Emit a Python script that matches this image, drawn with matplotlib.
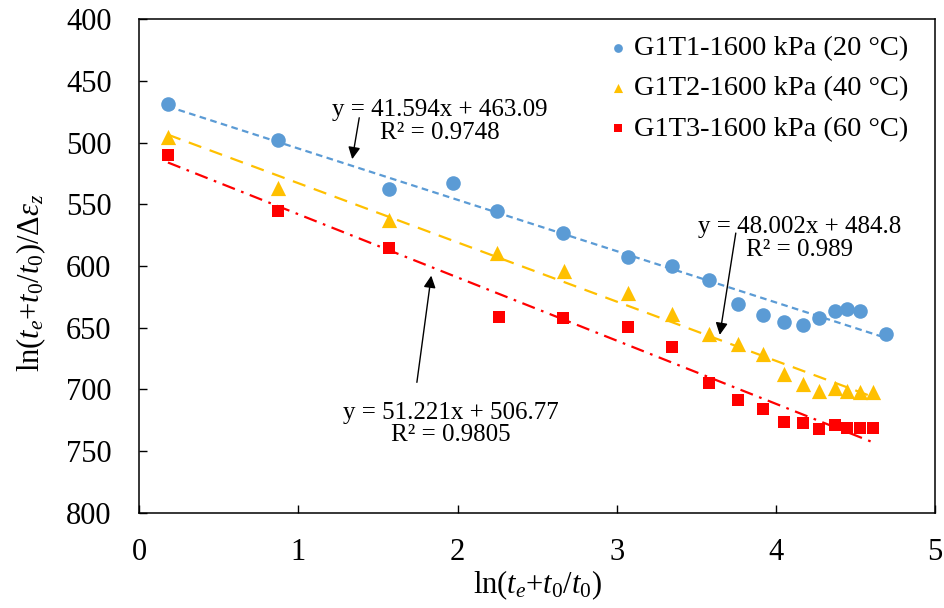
import numpy as np
import matplotlib
matplotlib.use("Agg")
import matplotlib.pyplot as plt

plt.rcParams['font.family'] = ['Liberation Serif', 'DejaVu Serif']
plt.rcParams['mathtext.fontset'] = 'custom'
plt.rcParams['mathtext.rm'] = 'Liberation Serif'
plt.rcParams['mathtext.it'] = 'Liberation Serif:italic'

# data
x_blue = [0.18, 0.87, 1.57, 1.97, 2.25, 2.66, 3.07, 3.35, 3.58, 3.76, 3.92,
          4.05, 4.17, 4.27, 4.37, 4.45, 4.53, 4.69]
y_blue = [468.5, 498, 537.5, 533, 555, 573, 593, 600, 611, 631, 640,
          645, 648, 642, 636.5, 635, 636.5, 655]

x_yel = [0.18, 0.87, 1.57, 2.25, 2.67, 3.07, 3.35, 3.58, 3.76, 3.92,
         4.05, 4.17, 4.27, 4.37, 4.45, 4.53, 4.61]
y_yel = [495, 537, 563, 589, 604, 622, 639, 655, 663.5, 671.5,
         687.5, 695.5, 701, 699, 701, 702, 702]

x_red = [0.18, 0.87, 1.57, 2.26, 2.66, 3.07, 3.35, 3.58, 3.76, 3.92,
         4.05, 4.17, 4.27, 4.37, 4.45, 4.53, 4.61]
y_red = [510, 555, 585, 641.5, 642, 649, 665.5, 695, 708.5, 716,
         726.5, 727.5, 732, 729, 731, 731.5, 731]

# trend line coefficients (slope, intercept)
fit_blue = (41.594, 463.09)
fit_yel = (48.002, 484.8)
fit_red = (51.221, 506.77)

labels = ['G1T1-1600 kPa (20 °C)', 'G1T2-1600 kPa (40 °C)', 'G1T3-1600 kPa (60 °C)']
c_blue, c_yel, c_red = '#5B9BD5', '#FFC000', '#FF0000'

fig = plt.figure(figsize=(9.45, 6.08), dpi=100)
ax = fig.add_axes([0.1474, 0.1567, 0.8420, 0.8113])

# trend lines
xb = np.array([x_blue[0], x_blue[-1]])
ax.plot(xb, fit_blue[0] * xb + fit_blue[1], color=c_blue, lw=1.6, dashes=(3, 2), zorder=2)
xy = np.array([x_yel[0], x_yel[-1]])
ax.plot(xy, fit_yel[0] * xy + fit_yel[1], color=c_yel, lw=1.6, dashes=(6, 4), zorder=2)
xr = np.array([x_red[0], x_red[-1]])
ax.plot(xr, fit_red[0] * xr + fit_red[1], color=c_red, lw=1.6, dashes=(6, 3, 1.2, 3), zorder=2)

# data points
ax.scatter(x_blue, y_blue, s=110, marker='o', color=c_blue, label=labels[0], zorder=3, linewidths=0)
ax.scatter(x_yel, y_yel, s=120, marker='^', color=c_yel, label=labels[1], zorder=3, linewidths=0)
ax.scatter(x_red, y_red, s=85, marker='s', color=c_red, label=labels[2], zorder=3, linewidths=0)

ax.set_xlim(0, 5)
ax.set_ylim(800, 400)
ax.set_xticks(range(0, 6))
ax.set_yticks(range(400, 801, 50))
ax.tick_params(direction='in', length=6, width=1, labelsize=22)
ax.tick_params(axis='x', pad=18)
ax.tick_params(axis='y', pad=20)
for s in ax.spines.values():
    s.set_linewidth(1.1)

ax.set_xlabel(r'ln($t_e$+$t_0$/$t_0$)', fontsize=22, labelpad=1)
ax.set_ylabel(r'ln($t_e$+$t_0$/$t_0$)/Δ$\varepsilon_z$', fontsize=22)
ax.yaxis.set_label_coords(-0.115, 0.466)

# equations with arrows
ap = dict(arrowstyle='-|>', color='black', lw=1, mutation_scale=18)
ax.annotate('', xy=(1.335, 515.5), xytext=(1.385, 477.5), arrowprops=ap)
ax.text(1.89, 482.5, 'y = 41.594x + 463.09\nR² = 0.9748', fontsize=18,
        ha='center', va='center', linespacing=1.05)

ax.annotate('', xy=(3.645, 658), xytext=(3.751, 571), arrowprops=ap)
ax.text(4.15, 577.5, 'y = 48.002x + 484.8\nR² = 0.989', fontsize=18,
        ha='center', va='center', linespacing=1.05)

ax.annotate('', xy=(1.837, 605.5), xytext=(1.742, 696.5), arrowprops=ap)
ax.text(1.96, 728, 'y = 51.221x + 506.77\nR² = 0.9805', fontsize=18,
        ha='center', va='center', linespacing=1.05)

leg = ax.legend(loc='upper right', bbox_to_anchor=(0.977, 0.985),
                prop={'family': 'Liberation Serif', 'size': 20.5},
                frameon=False, borderaxespad=0, handletextpad=0.05, handlelength=1.0,
                labelspacing=0.5, borderpad=0.3, markerscale=0.6)

fig.savefig('out.png', dpi=100)
